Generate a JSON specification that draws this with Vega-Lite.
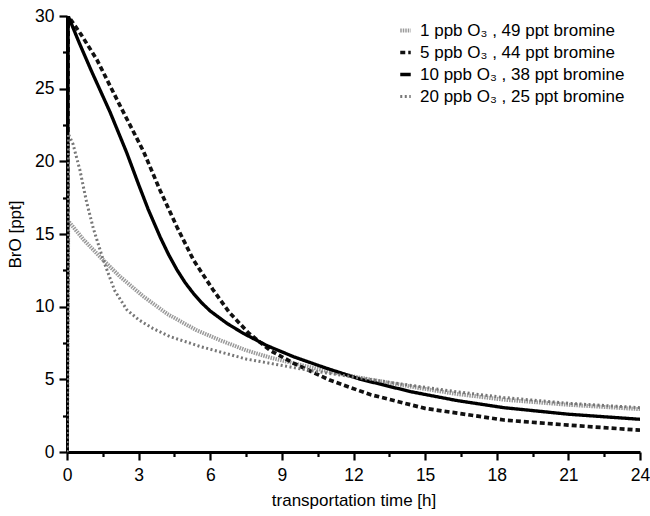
{
  "$schema": "https://vega.github.io/schema/vega-lite/v6.json",
  "width": 573,
  "height": 436,
  "autosize": "none",
  "padding": {"left": 67, "top": 16, "right": 10, "bottom": 64},
  "background": "white",
  "config": {
    "view": {"stroke": null},
    "font": "Liberation Sans",
    "axis": {"grid": false, "ticks": true, "domainColor": "black", "tickColor": "black", "labelColor": "black", "titleColor": "black", "labelFont": "Liberation Sans", "titleFont": "Liberation Sans", "titleFontWeight": "normal"}
  },
  "datasets": {
    "curves": [
      {"series": "1 ppb O₃ , 49 ppt bromine", "t": 0, "bro": 0},
      {"series": "1 ppb O₃ , 49 ppt bromine", "t": 0.05, "bro": 15.9},
      {"series": "1 ppb O₃ , 49 ppt bromine", "t": 0.7, "bro": 14.6},
      {"series": "1 ppb O₃ , 49 ppt bromine", "t": 1.4, "bro": 13.4},
      {"series": "1 ppb O₃ , 49 ppt bromine", "t": 2.2, "bro": 12.1},
      {"series": "1 ppb O₃ , 49 ppt bromine", "t": 3.2, "bro": 10.7},
      {"series": "1 ppb O₃ , 49 ppt bromine", "t": 4.2, "bro": 9.5},
      {"series": "1 ppb O₃ , 49 ppt bromine", "t": 5.4, "bro": 8.4},
      {"series": "1 ppb O₃ , 49 ppt bromine", "t": 6.4, "bro": 7.7},
      {"series": "1 ppb O₃ , 49 ppt bromine", "t": 7.5, "bro": 7.0},
      {"series": "1 ppb O₃ , 49 ppt bromine", "t": 8.5, "bro": 6.5},
      {"series": "1 ppb O₃ , 49 ppt bromine", "t": 9.5, "bro": 6.1},
      {"series": "1 ppb O₃ , 49 ppt bromine", "t": 10.8, "bro": 5.6},
      {"series": "1 ppb O₃ , 49 ppt bromine", "t": 12.3, "bro": 5.1},
      {"series": "1 ppb O₃ , 49 ppt bromine", "t": 14.4, "bro": 4.5},
      {"series": "1 ppb O₃ , 49 ppt bromine", "t": 16.3, "bro": 4.0},
      {"series": "1 ppb O₃ , 49 ppt bromine", "t": 18.3, "bro": 3.6},
      {"series": "1 ppb O₃ , 49 ppt bromine", "t": 21, "bro": 3.25},
      {"series": "1 ppb O₃ , 49 ppt bromine", "t": 24, "bro": 2.95},

      {"series": "5 ppb O₃ , 44 ppt bromine", "t": 0, "bro": 0},
      {"series": "5 ppb O₃ , 44 ppt bromine", "t": 0.05, "bro": 30},
      {"series": "5 ppb O₃ , 44 ppt bromine", "t": 0.6, "bro": 28.7},
      {"series": "5 ppb O₃ , 44 ppt bromine", "t": 1.25, "bro": 27.0},
      {"series": "5 ppb O₃ , 44 ppt bromine", "t": 2.2, "bro": 23.9},
      {"series": "5 ppb O₃ , 44 ppt bromine", "t": 3.2, "bro": 20.7},
      {"series": "5 ppb O₃ , 44 ppt bromine", "t": 3.9, "bro": 18.0},
      {"series": "5 ppb O₃ , 44 ppt bromine", "t": 4.6, "bro": 15.5},
      {"series": "5 ppb O₃ , 44 ppt bromine", "t": 5.3, "bro": 13.2},
      {"series": "5 ppb O₃ , 44 ppt bromine", "t": 6.1, "bro": 11.2},
      {"series": "5 ppb O₃ , 44 ppt bromine", "t": 6.8, "bro": 9.6},
      {"series": "5 ppb O₃ , 44 ppt bromine", "t": 7.6, "bro": 8.2},
      {"series": "5 ppb O₃ , 44 ppt bromine", "t": 8.5, "bro": 7.0},
      {"series": "5 ppb O₃ , 44 ppt bromine", "t": 9.5, "bro": 6.1},
      {"series": "5 ppb O₃ , 44 ppt bromine", "t": 11, "bro": 4.95},
      {"series": "5 ppb O₃ , 44 ppt bromine", "t": 12.7, "bro": 3.95},
      {"series": "5 ppb O₃ , 44 ppt bromine", "t": 15, "bro": 3.0},
      {"series": "5 ppb O₃ , 44 ppt bromine", "t": 18.3, "bro": 2.2},
      {"series": "5 ppb O₃ , 44 ppt bromine", "t": 21, "bro": 1.85},
      {"series": "5 ppb O₃ , 44 ppt bromine", "t": 24, "bro": 1.5},

      {"series": "10 ppb O₃ , 38 ppt bromine", "t": 0, "bro": 0},
      {"series": "10 ppb O₃ , 38 ppt bromine", "t": 0.05, "bro": 30},
      {"series": "10 ppb O₃ , 38 ppt bromine", "t": 0.5, "bro": 28.2},
      {"series": "10 ppb O₃ , 38 ppt bromine", "t": 1.0, "bro": 26.3},
      {"series": "10 ppb O₃ , 38 ppt bromine", "t": 1.8, "bro": 23.4},
      {"series": "10 ppb O₃ , 38 ppt bromine", "t": 2.5, "bro": 20.6},
      {"series": "10 ppb O₃ , 38 ppt bromine", "t": 3.0, "bro": 18.4},
      {"series": "10 ppb O₃ , 38 ppt bromine", "t": 3.4, "bro": 16.7},
      {"series": "10 ppb O₃ , 38 ppt bromine", "t": 3.9, "bro": 14.8},
      {"series": "10 ppb O₃ , 38 ppt bromine", "t": 4.25, "bro": 13.6},
      {"series": "10 ppb O₃ , 38 ppt bromine", "t": 4.6, "bro": 12.55},
      {"series": "10 ppb O₃ , 38 ppt bromine", "t": 4.95, "bro": 11.65},
      {"series": "10 ppb O₃ , 38 ppt bromine", "t": 5.3, "bro": 10.9},
      {"series": "10 ppb O₃ , 38 ppt bromine", "t": 5.65, "bro": 10.25},
      {"series": "10 ppb O₃ , 38 ppt bromine", "t": 6.0, "bro": 9.7},
      {"series": "10 ppb O₃ , 38 ppt bromine", "t": 6.7, "bro": 8.85},
      {"series": "10 ppb O₃ , 38 ppt bromine", "t": 7.4, "bro": 8.15},
      {"series": "10 ppb O₃ , 38 ppt bromine", "t": 8.4, "bro": 7.3},
      {"series": "10 ppb O₃ , 38 ppt bromine", "t": 9.5, "bro": 6.55},
      {"series": "10 ppb O₃ , 38 ppt bromine", "t": 10.8, "bro": 5.8},
      {"series": "10 ppb O₃ , 38 ppt bromine", "t": 12.3, "bro": 5.0},
      {"series": "10 ppb O₃ , 38 ppt bromine", "t": 14.4, "bro": 4.15},
      {"series": "10 ppb O₃ , 38 ppt bromine", "t": 16.3, "bro": 3.55},
      {"series": "10 ppb O₃ , 38 ppt bromine", "t": 18.3, "bro": 3.05},
      {"series": "10 ppb O₃ , 38 ppt bromine", "t": 21, "bro": 2.6},
      {"series": "10 ppb O₃ , 38 ppt bromine", "t": 24, "bro": 2.25},

      {"series": "20 ppb O₃ , 25 ppt bromine", "t": 0, "bro": 0},
      {"series": "20 ppb O₃ , 25 ppt bromine", "t": 0.05, "bro": 21.9},
      {"series": "20 ppb O₃ , 25 ppt bromine", "t": 0.25, "bro": 21.2},
      {"series": "20 ppb O₃ , 25 ppt bromine", "t": 0.54, "bro": 19.4},
      {"series": "20 ppb O₃ , 25 ppt bromine", "t": 0.82, "bro": 17.2},
      {"series": "20 ppb O₃ , 25 ppt bromine", "t": 1.1, "bro": 15.4},
      {"series": "20 ppb O₃ , 25 ppt bromine", "t": 1.52, "bro": 13.2},
      {"series": "20 ppb O₃ , 25 ppt bromine", "t": 2.0, "bro": 11.1},
      {"series": "20 ppb O₃ , 25 ppt bromine", "t": 2.5, "bro": 9.8},
      {"series": "20 ppb O₃ , 25 ppt bromine", "t": 3.0, "bro": 9.1},
      {"series": "20 ppb O₃ , 25 ppt bromine", "t": 3.6, "bro": 8.5},
      {"series": "20 ppb O₃ , 25 ppt bromine", "t": 4.3, "bro": 7.95},
      {"series": "20 ppb O₃ , 25 ppt bromine", "t": 5.6, "bro": 7.25},
      {"series": "20 ppb O₃ , 25 ppt bromine", "t": 7.5, "bro": 6.4},
      {"series": "20 ppb O₃ , 25 ppt bromine", "t": 10.2, "bro": 5.6},
      {"series": "20 ppb O₃ , 25 ppt bromine", "t": 13.7, "bro": 4.75},
      {"series": "20 ppb O₃ , 25 ppt bromine", "t": 16.3, "bro": 4.15},
      {"series": "20 ppb O₃ , 25 ppt bromine", "t": 18.3, "bro": 3.75},
      {"series": "20 ppb O₃ , 25 ppt bromine", "t": 21, "bro": 3.35},
      {"series": "20 ppb O₃ , 25 ppt bromine", "t": 24, "bro": 3.05}
    ]
  },
  "data": {"name": "curves"},
  "mark": {"type": "line", "strokeJoin": "round", "interpolate": "linear", "clip": true},
  "encoding": {
    "x": {
      "field": "t", "type": "quantitative",
      "scale": {"domain": [0, 24], "nice": false, "zero": false},
      "axis": {
        "orient": "bottom",
        "values": [0, 1.5, 3, 4.5, 6, 7.5, 9, 10.5, 12, 13.5, 15, 16.5, 18, 19.5, 21, 22.5, 24],
        "labelExpr": "datum.value % 3 === 0 ? datum.label : ''",
        "title": "transportation time [h]", "titleFontSize": 17, "titlePadding": 9,
        "labelFontSize": 17.5, "labelPadding": 6, "labelFlush": false,
        "tickSize": {"condition": {"test": "datum.value % 3 === 0", "value": 8}, "value": 4.5},
        "tickWidth": 2.2, "domainWidth": 3
      }
    },
    "y": {
      "field": "bro", "type": "quantitative",
      "scale": {"domain": [0, 30], "nice": false},
      "axis": {
        "orient": "left",
        "values": [0, 2.5, 5, 7.5, 10, 12.5, 15, 17.5, 20, 22.5, 25, 27.5, 30],
        "labelExpr": "datum.value % 5 === 0 ? datum.label : ''",
        "title": "BrO [ppt]", "titleFontSize": 17, "titlePadding": 10,
        "labelFontSize": 17.5, "labelPadding": 5,
        "tickSize": {"condition": {"test": "datum.value % 5 === 0", "value": 8}, "value": 4.5},
        "tickWidth": 2.2, "domainWidth": 3
      }
    },
    "detail": {"field": "series"},
    "color": {
      "field": "series", "type": "nominal",
      "scale": {
        "domain": ["1 ppb O₃ , 49 ppt bromine", "5 ppb O₃ , 44 ppt bromine", "10 ppb O₃ , 38 ppt bromine", "20 ppb O₃ , 25 ppt bromine"],
        "range": ["#9a9a9a", "#111111", "#000000", "#777777"]
      },
      "legend": {
        "title": null, "orient": "none", "legendX": 330, "legendY": 6,
        "symbolType": "stroke", "symbolSize": 110, "symbolStrokeWidth": 3,
        "labelFontSize": 17, "labelFont": "Liberation Sans", "labelColor": "black", "labelOffset": 6, "rowPadding": 4, "labelLimit": 400
      }
    },
    "strokeDash": {
      "field": "series", "type": "nominal",
      "scale": {
        "domain": ["1 ppb O₃ , 49 ppt bromine", "5 ppb O₃ , 44 ppt bromine", "10 ppb O₃ , 38 ppt bromine", "20 ppb O₃ , 25 ppt bromine"],
        "range": [[1.5, 1], [5, 3], [1, 0], [2, 2.5]]
      },
      "legend": {
        "title": null, "orient": "none", "legendX": 330, "legendY": 6,
        "symbolType": "stroke", "symbolSize": 110, "symbolStrokeWidth": 3,
        "labelFontSize": 17, "labelFont": "Liberation Sans", "labelColor": "black", "labelOffset": 6, "rowPadding": 4, "labelLimit": 400
      }
    },
    "strokeWidth": {
      "field": "series", "type": "nominal",
      "scale": {
        "domain": ["1 ppb O₃ , 49 ppt bromine", "5 ppb O₃ , 44 ppt bromine", "10 ppb O₃ , 38 ppt bromine", "20 ppb O₃ , 25 ppt bromine"],
        "range": [4, 3, 3.4, 2]
      },
      "legend": null
    }
  }
}
